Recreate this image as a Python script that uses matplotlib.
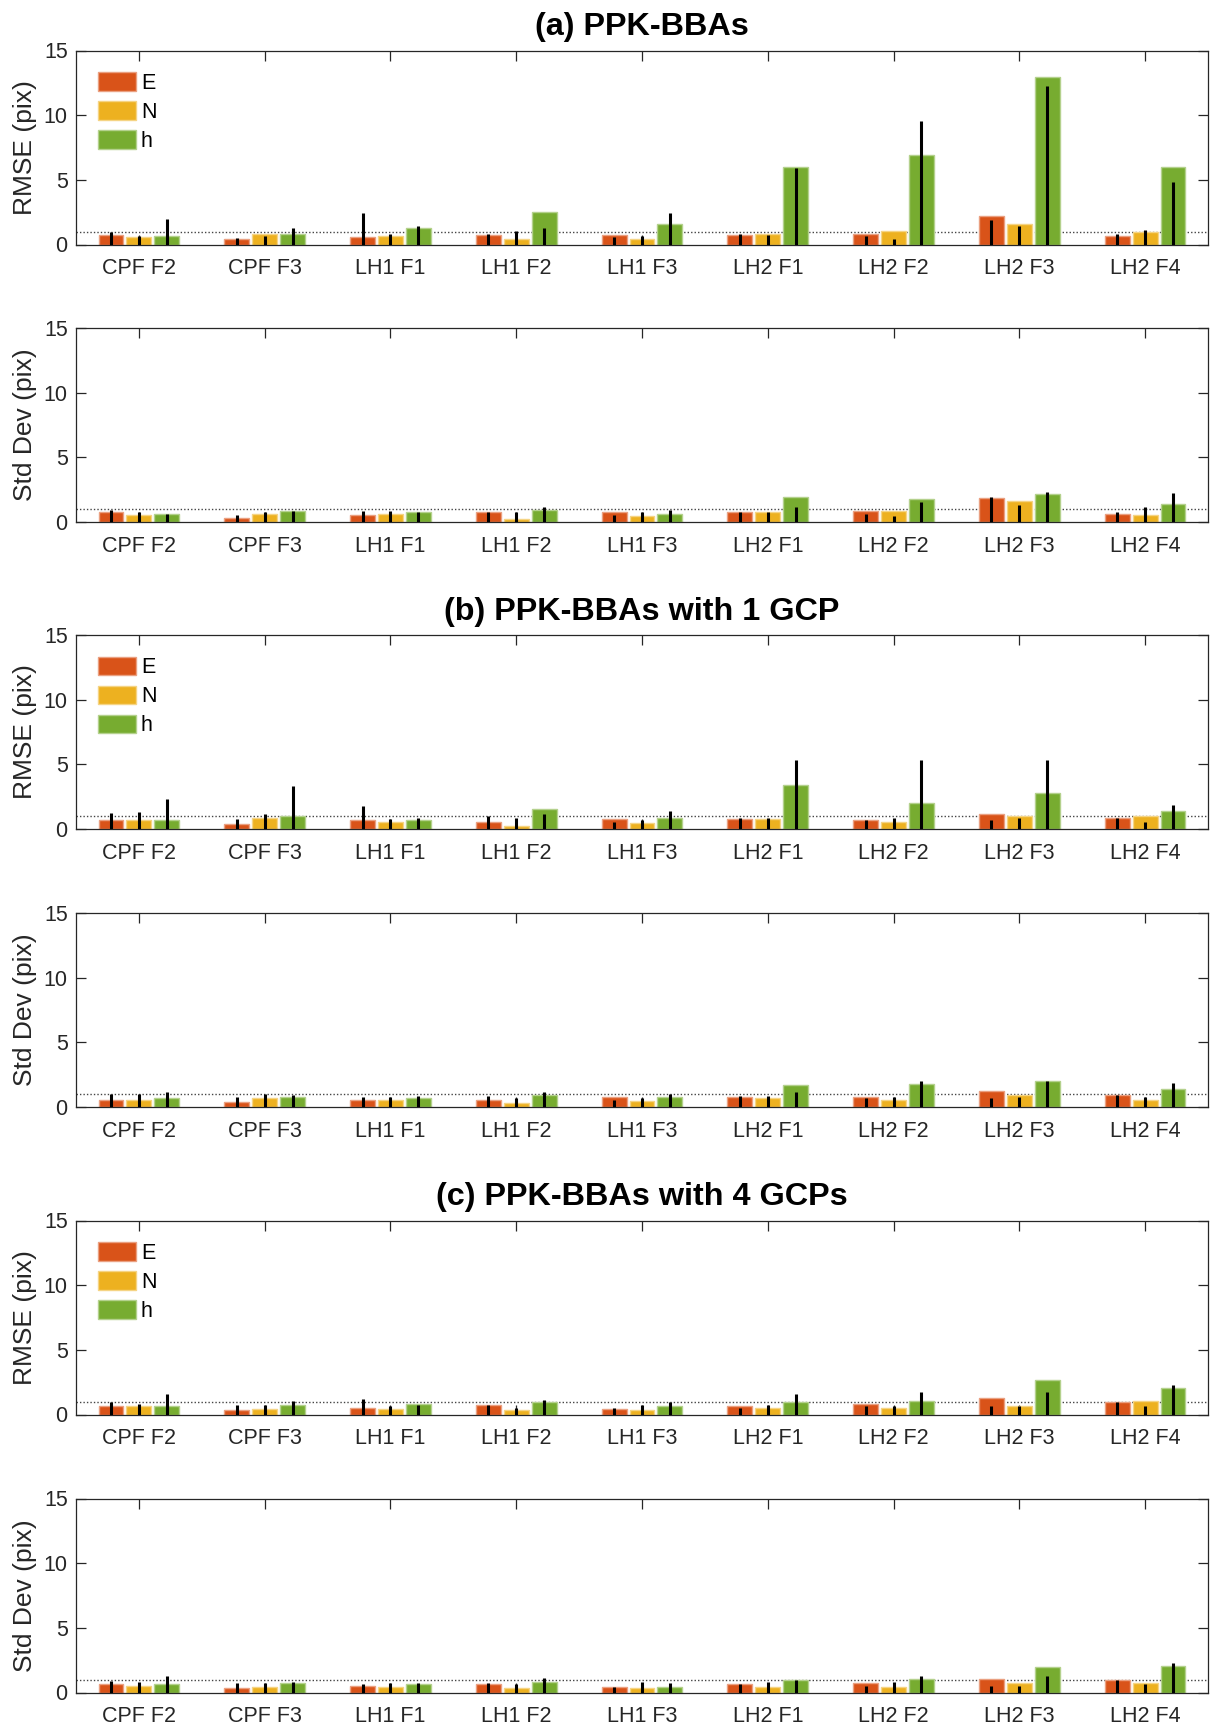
import matplotlib
matplotlib.use("Agg")
import matplotlib.pyplot as plt
import numpy as np

plt.rcParams['font.family'] = ['Liberation Sans', 'DejaVu Sans']

categories = ["CPF F2", "CPF F3", "LH1 F1", "LH1 F2", "LH1 F3",
              "LH2 F1", "LH2 F2", "LH2 F3", "LH2 F4"]
components = ["E", "N", "h"]
colors = ["#D95319", "#EDB120", "#77AC30"]
yticks = [0, 5, 10, 15]
threshold = 1.0

group_titles = ["(a) PPK-BBAs", "(b) PPK-BBAs with 1 GCP", "(c) PPK-BBAs with 4 GCPs"]

# ---- (a) PPK-BBAs: RMSE bars and line values ----
a_rmse_E = [0.75, 0.39, 0.57, 0.75, 0.75, 0.75, 0.85, 2.17, 0.65]
a_rmse_N = [0.57, 0.85, 0.65, 0.39, 0.46, 0.85, 1.06, 1.57, 0.98]
a_rmse_h = [0.65, 0.85, 1.27, 2.48, 1.57, 6.02, 6.92, 12.94, 6.02]
a_rmse_E_line = [0.95, 0.54, 2.45, 0.85, 0.57, 0.85, 0.65, 1.86, 0.85]
a_rmse_N_line = [0.67, 0.67, 0.85, 1.03, 0.67, 0.75, 0.46, 1.45, 1.14]
a_rmse_h_line = [1.94, 1.24, 1.45, 1.24, 2.45, 5.94, 9.55, 12.24, 4.85]

# ---- (a) PPK-BBAs: Std Dev ----
a_std_E = [0.75, 0.34, 0.54, 0.75, 0.75, 0.75, 0.85, 1.86, 0.65]
a_std_N = [0.54, 0.65, 0.65, 0.26, 0.44, 0.75, 0.85, 1.66, 0.54]
a_std_h = [0.65, 0.85, 0.75, 0.96, 0.65, 1.97, 1.76, 2.17, 1.37]
a_std_E_line = [0.93, 0.54, 0.85, 0.75, 0.54, 0.75, 0.65, 1.97, 0.75]
a_std_N_line = [0.75, 0.75, 0.85, 0.75, 0.75, 0.75, 0.44, 1.34, 1.14]
a_std_h_line = [0.65, 0.85, 0.75, 1.14, 0.96, 1.14, 1.55, 2.35, 2.25]

# ---- (b) PPK-BBAs with 1 GCP: RMSE ----
b_rmse_E = [0.67, 0.36, 0.67, 0.57, 0.77, 0.77, 0.67, 1.18, 0.87]
b_rmse_N = [0.67, 0.87, 0.57, 0.26, 0.46, 0.77, 0.57, 0.98, 0.98]
b_rmse_h = [0.67, 0.98, 0.67, 1.57, 0.87, 3.40, 1.98, 2.80, 1.36]
b_rmse_E_line = [1.23, 0.77, 1.75, 1.03, 0.57, 0.87, 0.67, 0.67, 0.87]
b_rmse_N_line = [1.34, 1.13, 0.77, 0.85, 0.67, 0.87, 0.87, 0.87, 0.57]
b_rmse_h_line = [2.34, 3.34, 0.82, 1.13, 1.36, 5.33, 5.33, 5.33, 1.88]

# ---- (b) PPK-BBAs with 1 GCP: Std Dev ----
b_std_E = [0.57, 0.36, 0.57, 0.57, 0.75, 0.75, 0.75, 1.27, 0.96]
b_std_N = [0.57, 0.67, 0.57, 0.28, 0.47, 0.67, 0.57, 0.96, 0.57]
b_std_h = [0.67, 0.78, 0.67, 0.96, 0.75, 1.68, 1.78, 1.99, 1.37]
b_std_E_line = [1.03, 0.75, 0.75, 0.83, 0.57, 0.83, 0.67, 0.67, 0.96]
b_std_N_line = [1.03, 1.03, 0.75, 0.67, 0.67, 0.83, 0.75, 0.75, 0.75]
b_std_h_line = [1.14, 0.96, 0.83, 1.14, 1.03, 1.14, 2.02, 2.04, 1.86]

# ---- (c) PPK-BBAs with 4 GCPs: RMSE ----
c_rmse_E = [0.65, 0.34, 0.54, 0.72, 0.44, 0.65, 0.85, 1.27, 0.96]
c_rmse_N = [0.65, 0.44, 0.44, 0.34, 0.34, 0.54, 0.54, 0.65, 1.03]
c_rmse_h = [0.65, 0.75, 0.83, 0.96, 0.65, 0.96, 1.06, 2.63, 2.04]
c_rmse_E_line = [0.96, 0.75, 1.21, 0.72, 0.54, 0.54, 0.65, 0.65, 0.96]
c_rmse_N_line = [0.85, 0.75, 0.67, 0.54, 0.72, 0.75, 0.65, 0.65, 0.65]
c_rmse_h_line = [1.55, 1.03, 0.75, 1.11, 0.96, 1.55, 1.73, 1.73, 2.25]

# ---- (c) PPK-BBAs with 4 GCPs: Std Dev ----
c_std_E = [0.65, 0.34, 0.54, 0.65, 0.44, 0.65, 0.75, 1.03, 0.96]
c_std_N = [0.54, 0.44, 0.44, 0.34, 0.34, 0.44, 0.44, 0.75, 0.75]
c_std_h = [0.65, 0.75, 0.65, 0.85, 0.44, 0.96, 1.06, 1.94, 2.04]
c_std_E_line = [0.91, 0.72, 0.65, 0.72, 0.44, 0.65, 0.54, 0.54, 0.96]
c_std_N_line = [0.80, 0.75, 0.70, 0.65, 0.83, 0.78, 0.78, 0.54, 0.65]
c_std_h_line = [1.24, 0.83, 0.72, 1.11, 0.72, 0.96, 1.24, 1.24, 2.25]

panels = [
    ("RMSE (pix)", [a_rmse_E, a_rmse_N, a_rmse_h], [a_rmse_E_line, a_rmse_N_line, a_rmse_h_line]),
    ("Std Dev (pix)", [a_std_E, a_std_N, a_std_h], [a_std_E_line, a_std_N_line, a_std_h_line]),
    ("RMSE (pix)", [b_rmse_E, b_rmse_N, b_rmse_h], [b_rmse_E_line, b_rmse_N_line, b_rmse_h_line]),
    ("Std Dev (pix)", [b_std_E, b_std_N, b_std_h], [b_std_E_line, b_std_N_line, b_std_h_line]),
    ("RMSE (pix)", [c_rmse_E, c_rmse_N, c_rmse_h], [c_rmse_E_line, c_rmse_N_line, c_rmse_h_line]),
    ("Std Dev (pix)", [c_std_E, c_std_N, c_std_h], [c_std_E_line, c_std_N_line, c_std_h_line]),
]

W, H = 1213, 1730
fig = plt.figure(figsize=(W / 100, H / 100), dpi=100)

ax_left = 76 / W
ax_width = 1132 / W
ax_height = 194 / H
ax_bottoms_px = [244.5, 522, 829, 1107, 1414.5, 1692.5]

axis_color = "#262626"
tick_fs = 15.5
label_fs = 19
title_fs = 23.3

x = np.arange(1, len(categories) + 1)
offsets = [-0.222, 0.0, 0.222]
bar_w = 0.198


def lighten(c, amt=0.45):
    rgb = np.array(matplotlib.colors.to_rgb(c))
    return tuple(rgb + (1 - rgb) * amt)


for i, (ylabel, bars, lines) in enumerate(panels):
    bottom = 1 - ax_bottoms_px[i] / H
    ax = fig.add_axes([ax_left, bottom, ax_width, ax_height])

    for k in range(3):
        ax.bar(x + offsets[k], bars[k], width=bar_w, color=colors[k],
               edgecolor=lighten(colors[k]), linewidth=1.0,
               label=components[k], zorder=2)
        ax.vlines(x + offsets[k], 0, lines[k], colors="black",
                  linewidth=2.2, zorder=3)

    ax.axhline(threshold, color="#444444", linestyle=(0, (1, 1.5)),
               linewidth=1.0, zorder=1)

    ax.set_xlim(0.5, len(categories) + 0.5)
    ax.set_ylim(0, 15)
    ax.set_yticks(yticks)
    ax.set_xticks(x)
    ax.set_xticklabels(categories)
    ax.set_ylabel(ylabel, fontsize=label_fs, color=axis_color, labelpad=5)

    ax.tick_params(axis="both", direction="in", length=7.5, width=0.9,
                   colors=axis_color, labelsize=tick_fs)
    ax.tick_params(axis="x", top=True, pad=10)
    ax.tick_params(axis="y", right=True, pad=6)
    for sp in ax.spines.values():
        sp.set_color(axis_color)
        sp.set_linewidth(0.9)

    if i % 2 == 0:
        ax.set_title(group_titles[i // 2], fontsize=title_fs,
                     fontweight="bold", pad=11)
        ax.legend(loc="upper left", bbox_to_anchor=(0.019, 0.889),
                  frameon=False, borderpad=0, borderaxespad=0,
                  fontsize=tick_fs, handlelength=1.77, handleheight=0.96,
                  handletextpad=0.25, labelspacing=0.34)

fig.savefig("out.png", dpi=100)
